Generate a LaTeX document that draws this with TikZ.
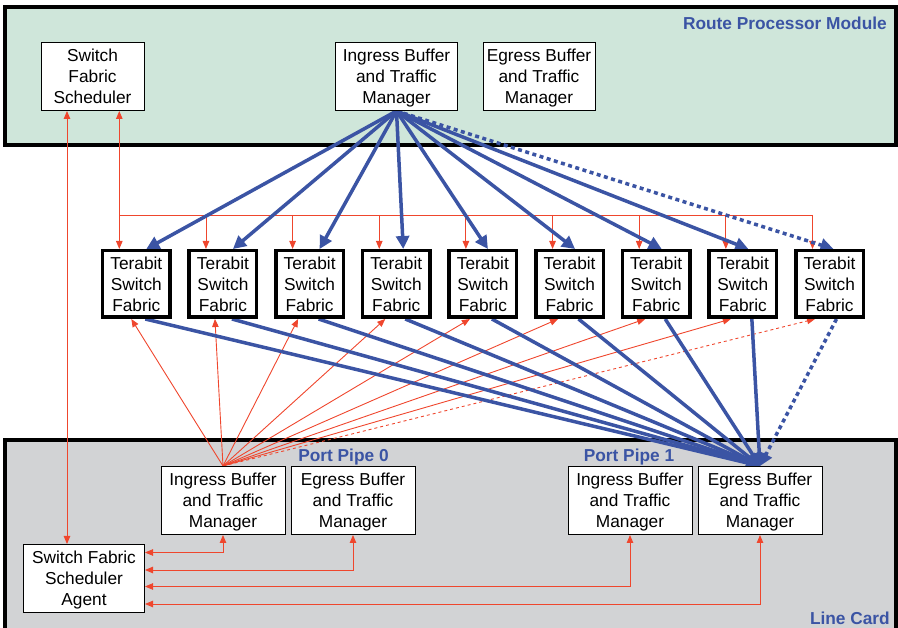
\documentclass[tikz,border=0pt]{standalone}
\usepackage{fontspec}
\setmainfont{Liberation Sans}
\usetikzlibrary{arrows.meta,calc}
\definecolor{rpmfill}{RGB}{207,230,218}
\definecolor{lcfill}{RGB}{210,211,213}
\definecolor{linkblue}{RGB}{59,84,164}
\definecolor{ctlred}{RGB}{239,70,45}
\pgfdeclarelayer{panels}
\pgfdeclarelayer{links}
\pgfsetlayers{panels,links,main}

\begin{document}
\begin{tikzpicture}[x=1pt,y=-1pt,
  font=\fontsize{17.3}{21}\selectfont,
  panel/.style={draw=black,line width=3.5pt},
  blk/.style={draw=black,line width=1pt,fill=white,align=center,inner sep=0pt,
              minimum height=68pt,text depth=0pt},
  tsf/.style={draw=black,line width=3.5pt,fill=white,align=center,inner sep=0pt,
              minimum width=67.5pt,minimum height=66.5pt},
  ctlline/.style={draw=ctlred,line width=0.9pt},
  ctl/.style={ctlline,>={Triangle[length=8pt,width=6.5pt]},->},
  ctl2/.style={ctlline,>={Triangle[length=8pt,width=6.5pt]},<->},
  data/.style={draw=linkblue,line width=3.5pt,>={Triangle[length=13pt,width=13pt]},->},
  dots/.style={dash pattern=on 4pt off 3.5pt},
  lbl/.style={text=linkblue,font=\fontsize{17.3}{21}\selectfont\bfseries,inner sep=0pt}
]
\useasboundingbox (0,0) rectangle (898,628);
\clip (0,0) rectangle (898,628);

% ---- enclosures
\begin{pgfonlayer}{panels}
  \draw[panel,fill=rpmfill] (5,7) rectangle (896,145);
  \draw[panel,fill=lcfill] (5,440) rectangle (896,660);
\end{pgfonlayer}

\node[lbl,anchor=base east] (rpm) at (887,29.5) {Route Processor Module};
\node[lbl,anchor=base east] (lc) at (890,624) {Line Card};
\node[lbl,anchor=base] (pp0) at (343.5,462) {Port Pipe 0};
\node[lbl,anchor=base] (pp1) at (629,462) {Port Pipe 1};

% ---- route processor module blocks
\node[blk,minimum width=103pt] (sfs) at (92.5,76.5) {Switch\\Fabric\\Scheduler};
\node[blk,minimum width=122pt] (ibt) at (396.5,76.5) {Ingress Buffer\\and Traffic\\Manager};
\node[blk,minimum width=112pt] (ebt) at (539,76.5) {Egress Buffer\\and Traffic\\Manager};

% ---- switch fabric row
\foreach \i in {1,...,9}
  \node[tsf] (f\i) at ({136.3+86.65*(\i-1)},284) {Terabit\\Switch\\Fabric};

% ---- line card blocks
\node[blk,minimum width=124pt] (ib0) at (223,500.5) {Ingress Buffer\\and Traffic\\Manager};
\node[blk,minimum width=124pt] (eb0) at (353,500.5) {Egress Buffer\\and Traffic\\Manager};
\node[blk,minimum width=124pt] (ib1) at (630,500.5) {Ingress Buffer\\and Traffic\\Manager};
\node[blk,minimum width=124pt] (eb1) at (760,500.5) {Egress Buffer\\and Traffic\\Manager};
\node[blk,minimum width=121pt] (sfa) at (84,578.5) {Switch Fabric\\Scheduler\\Agent};

\begin{pgfonlayer}{links}
  % scheduler control bus
  \foreach \i in {1,...,9}
    \coordinate (tap\i) at ([xshift=-17pt]f\i.north);
  \coordinate (busy) at (0,215);
  \coordinate (agx) at (67,0);
  \draw[ctl2] (sfs.south -| agx) -- (sfa.north -| agx);
  \draw[ctl2] (sfs.south -| tap1) -- (tap1);
  \draw[ctlline] (tap1 |- busy) -- (tap9 |- busy);
  \foreach \i in {2,...,9}
    \draw[ctl] (tap\i |- busy) -- (tap\i);

  % requests from port pipe 0 ingress to the fabrics
  \foreach \i/\dx in {1/-5,2/-8,3/-11.5,4/-11,5/-13,6/-11.5,7/-11,8/-12}
    \draw[ctl] (ib0.north) -- ([xshift=\dx pt]f\i.south);
  \draw[ctl,dashed] (ib0.north) -- ([xshift=-14.5pt]f9.south);

  % scheduler agent to the line card managers
  \draw[ctl2] ([yshift=26pt]sfa.east) -| (ib0.south);
  \draw[ctl2] ([yshift=8.5pt]sfa.east) -| (eb0.south);
  \draw[ctl2] ([yshift=-8pt]sfa.east) -| (ib1.south);
  \draw[ctl2] ([yshift=-25.5pt]sfa.east) -| (eb1.south);

  % data paths into the fabrics
  \foreach \i/\dx in {1/10,2/10,3/10,4/7,5/5,6/5.5,7/5.5,8/5.5}
    \draw[data] (ibt.south) -- ([xshift=\dx pt]f\i.north);
  \draw[data,dots] (ibt.south) -- ([xshift=4pt]f9.north);

  % data paths out of the fabrics
  \foreach \i in {1,...,8}
    \draw[data] ([xshift=9pt]f\i.south) -- (eb1.north);
  \draw[data,dots] ([xshift=7pt]f9.south) -- (eb1.north);
\end{pgfonlayer}
\end{tikzpicture}
\end{document}
